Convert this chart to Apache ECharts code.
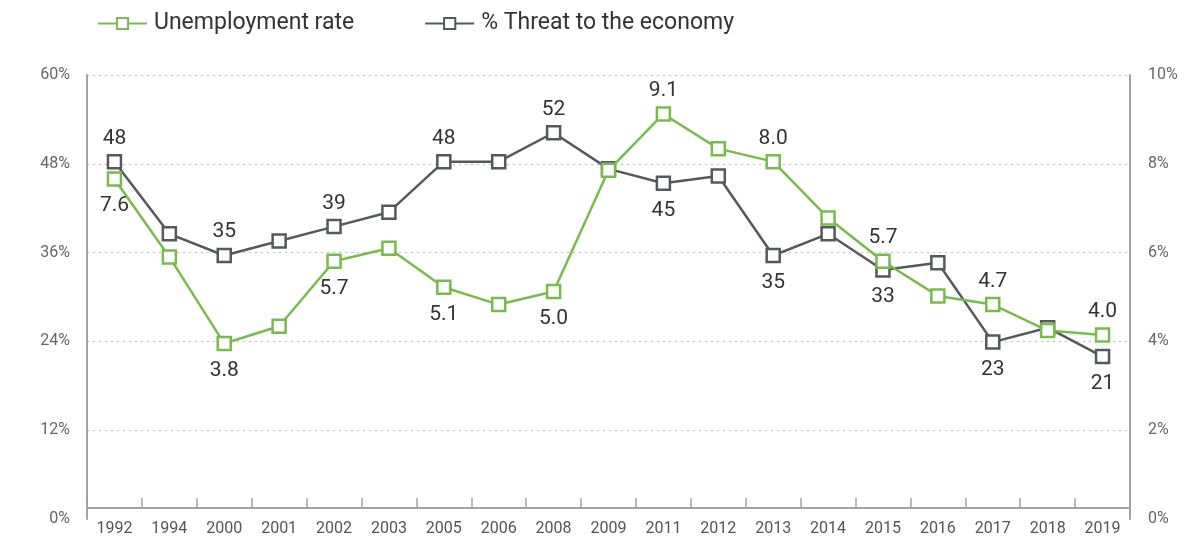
<!DOCTYPE html>
<html>
<head>
<meta charset="utf-8">
<style>
  html, body { margin: 0; padding: 0; background: #fff; }
  #chart { width: 1185px; height: 541px; }
</style>
<script src="https://cdn.jsdelivr.net/npm/echarts@6/dist/echarts.min.js"></script>
</head>
<body>
<div id="chart"></div>
<script>
// ---- data ----
const years = ['1992','1994','2000','2001','2002','2003','2005','2006','2008','2009','2011','2012','2013','2014','2015','2016','2017','2018','2019'];
const unemploymentRate = [7.6, 5.8, 3.8, 4.2, 5.7, 6.0, 5.1, 4.7, 5.0, 7.8, 9.1, 8.3, 8.0, 6.7, 5.7, 4.9, 4.7, 4.1, 4.0];
const threatToEconomy = [48, 38, 35, 37, 39, 41, 48, 48, 52, 47, 45, 46, 35, 38, 33, 34, 23, 25, 21];
// which points carry a value label, and where
const unemploymentLabelPos = ['bottom', null, 'bottom', null, 'bottom', null, 'bottom', null, 'bottom', null, 'top', null, 'top', null, 'top', null, 'top', null, 'top'];
const threatLabelPos = ['top', null, 'top', null, 'top', null, 'top', null, 'top', null, 'bottom', null, 'bottom', null, 'bottom', null, 'bottom', null, 'bottom'];
const leftTicks = { min: 0, max: 60, interval: 12 };
const rightTicks = { min: 0, max: 10, interval: 2 };

const GREEN = '#7aba4c';
const GRAY = '#55585c';
const FONT = 'Roboto, "Liberation Sans", sans-serif';

function buildData(values, positions, digits) {
  return values.map((v, i) => {
    const pos = positions[i];
    if (!pos) return { value: v };
    return {
      value: v,
      label: {
        show: true,
        position: pos,
        distance: pos === 'top' ? 5 : 9,
        fontSize: 21,
        fontFamily: FONT,
        color: '#333',
        formatter: () => v.toFixed(digits)
      }
    };
  });
}

const chart = echarts.init(document.getElementById('chart'), null, { renderer: 'canvas' });
chart.setOption({
  animation: false,
  backgroundColor: '#fff',
  textStyle: { fontFamily: FONT },
  legend: {
    left: 92,
    top: 7,
    itemWidth: 49,
    itemHeight: 14,
    itemGap: 70,
    textStyle: { fontSize: 23, color: '#333', fontFamily: FONT, padding: [0, 0, 0, 2] },
    data: ['Unemployment rate', '% Threat to the economy']
  },
  grid: { left: 87, right: 55, top: 75, bottom: 22, containLabel: false, outerBoundsMode: 'none' },
  xAxis: {
    type: 'category',
    data: years,
    boundaryGap: true,
    offset: -11,
    axisLine: { onZero: false, lineStyle: { color: '#a3a3a3', width: 2 } },
    axisTick: { show: true, inside: true, length: 10, lineStyle: { color: '#a3a3a3', width: 1.5 } },
    axisLabel: { color: '#555', fontSize: 16, margin: 13, interval: 0, fontFamily: FONT },
    splitLine: { show: false }
  },
  yAxis: [
    {
      type: 'value', position: 'left',
      min: leftTicks.min, max: leftTicks.max, interval: leftTicks.interval,
      axisLine: { show: true, lineStyle: { color: '#a3a3a3', width: 2 } },
      axisTick: { show: false },
      axisLabel: { formatter: '{value}%', color: '#666', fontSize: 16, margin: 17, fontFamily: FONT },
      splitLine: { show: true, showMinLine: false, lineStyle: { type: [2, 4], color: '#bdbdbd', width: 1 } }
    },
    {
      type: 'value', position: 'right',
      min: rightTicks.min, max: rightTicks.max, interval: rightTicks.interval,
      axisLine: { show: true, lineStyle: { color: '#a3a3a3', width: 2 } },
      axisTick: { show: false },
      axisLabel: { formatter: '{value}%', color: '#666', fontSize: 16, margin: 18, fontFamily: FONT },
      splitLine: { show: false }
    },
    // data scales used by the plotted series (zero sits on the x-axis line)
    { type: 'value', position: 'left', min: -1.5, max: 60, show: false, splitLine: { show: false } },
    { type: 'value', position: 'right', min: -0.25, max: 10, show: false, splitLine: { show: false } }
  ],
  series: [
    {
      name: 'Unemployment rate',
      type: 'line',
      yAxisIndex: 3,
      z: 4,
      data: buildData(unemploymentRate, unemploymentLabelPos, 1),
      symbol: 'rect',
      symbolSize: 13,
      showAllSymbol: true,
      lineStyle: { color: GREEN, width: 2.5 },
      itemStyle: { color: '#fff', borderColor: GREEN, borderWidth: 2.5 },
      emphasis: { disabled: true }
    },
    {
      name: '% Threat to the economy',
      type: 'line',
      yAxisIndex: 2,
      z: 3,
      data: buildData(threatToEconomy, threatLabelPos, 0),
      symbol: 'rect',
      symbolSize: 13,
      showAllSymbol: true,
      lineStyle: { color: GRAY, width: 2.5 },
      itemStyle: { color: '#fff', borderColor: GRAY, borderWidth: 2.5 },
      emphasis: { disabled: true }
    }
  ]
});
</script>
</body>
</html>
